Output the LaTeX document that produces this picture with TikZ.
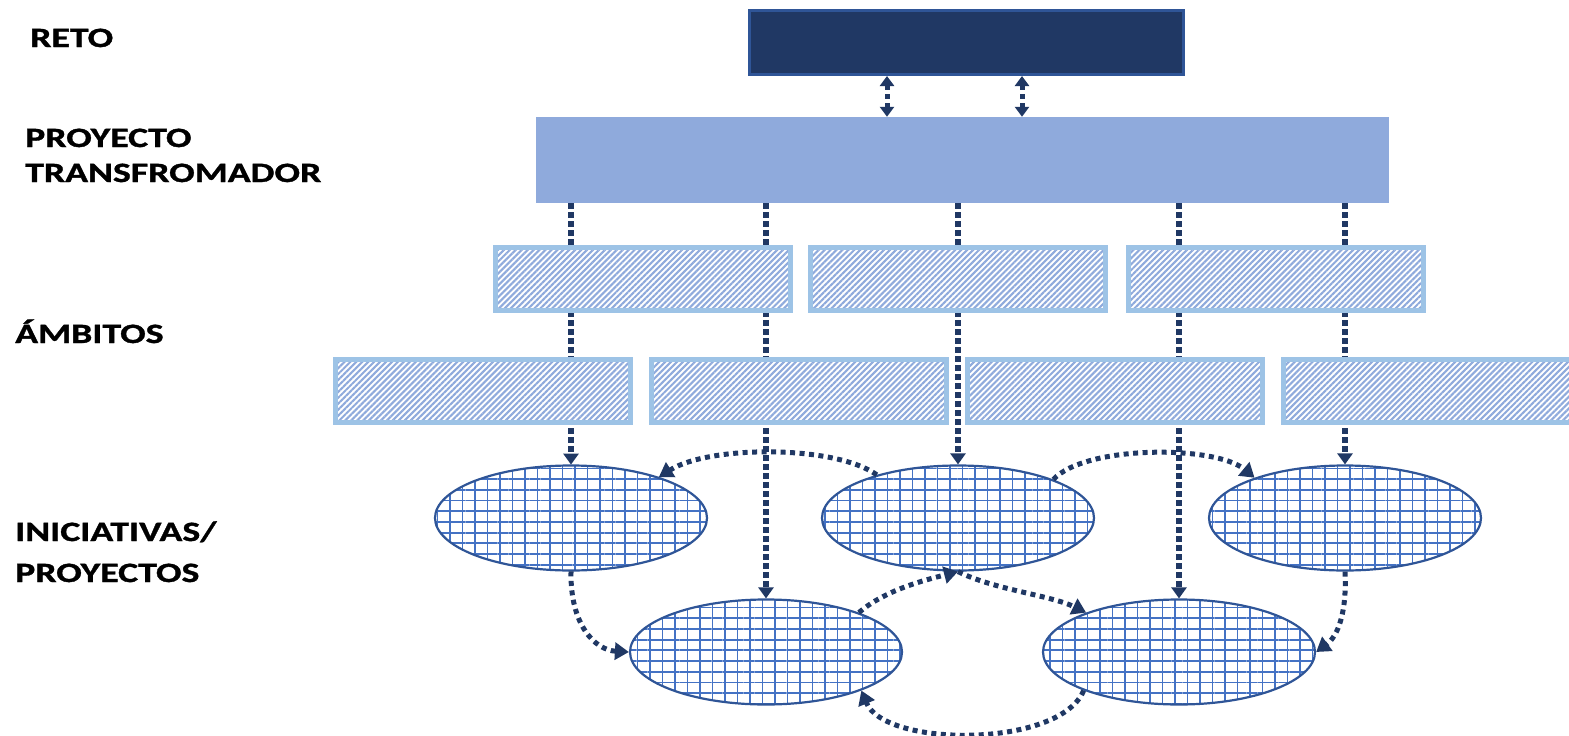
\documentclass[tikz,border=0pt]{standalone}
\usepackage{fontspec}
\newfontfamily\labfont[FakeStretch=1.35,FakeBold=1.2]{Carlito}
\usetikzlibrary{arrows.meta,shapes.geometric,patterns.meta}
\definecolor{navy}{HTML}{203864}
\definecolor{navyedge}{HTML}{2F5597}
\definecolor{proyfill}{HTML}{8FAADC}
\definecolor{ambedge}{HTML}{9DC3E6}
\definecolor{gridblue}{HTML}{4472C4}
\tikzset{
  lab/.style={anchor=base west, inner sep=0pt, font=\labfont\bfseries\fontsize{28}{30}\selectfont, text=black},
  ambbox/.style={rectangle, draw=ambedge, line width=5pt, minimum width=295pt, minimum height=63pt, inner sep=0pt,
    preaction={fill=white},
    pattern={Lines[angle=45,distance=4.2pt,line width=2.1pt]}, pattern color=proyfill},
  inic/.style={ellipse, draw=navyedge, line width=2.2pt, minimum width=272pt, minimum height=105pt, inner sep=0pt,
    preaction={fill=white},
    preaction={pattern={Lines[angle=0,distance=10.7pt,line width=1.8pt]}, pattern color=gridblue},
    pattern={Lines[angle=90,distance=12.5pt,line width=1.8pt]}, pattern color=gridblue},
  vline/.style={draw=navy, line width=5.5pt, dash pattern=on 6pt off 3pt, -{Triangle[width=15pt,length=11pt]}},
  cur/.style={draw=navy, line width=5pt, dash pattern=on 5pt off 4.5pt, -{Triangle[width=17pt,length=14pt]}},
  dbl/.style={draw=navy, line width=5pt, dash pattern=on 5pt off 4pt, {Triangle[width=14pt,length=10pt]}-{Triangle[width=14pt,length=10pt]}}
}
\begin{document}
\begin{tikzpicture}[x=1pt,y=-1pt]
\useasboundingbox (0,0) rectangle (1569,736);
% labels
\node[lab] (lreto) at (30,47) {RETO};
\node[lab] (lproy1) at (25,147) {PROYECTO};
\node[lab] (lproy2) at (25,182) {TRANSFROMADOR};
\node[lab] (lamb) at (15,343) {ÁMBITOS};
\node[lab] (lini1) at (15,541) {INICIATIVAS/};
\node[lab] (lini2) at (15,582) {PROYECTOS};
% main boxes
\node[rectangle, fill=navy, draw=navyedge, line width=3pt, minimum width=434pt, minimum height=64pt, inner sep=0pt] (reto) at (966.5,42.5) {};
\node[rectangle, fill=proyfill, minimum width=853pt, minimum height=86pt, inner sep=0pt] (proy) at (962.5,160) {};
% ellipses
\node[inic] (e1) at (571,518) {};
\node[inic] (e2) at (958,518) {};
\node[inic] (e3) at (1345,518) {};
\node[inic] (e4) at (766,652) {};
\node[inic] (e5) at (1179,652) {};
% reto <-> proyecto
\coordinate (ra) at (887,0);
\coordinate (rb) at (1022,0);
\draw[dbl] (reto.south -| ra) -- (proy.north -| ra);
\draw[dbl] (reto.south -| rb) -- (proy.north -| rb);
% vertical connectors
\draw[vline] (proy.south -| e1.north) -- (e1.north);
\draw[vline] (proy.south -| e4.north) -- (e4.north);
\draw[vline] (proy.south -| e2.north) -- (e2.north);
\draw[vline] (proy.south -| e5.north) -- (e5.north);
\draw[vline] (proy.south -| e3.north) -- (e3.north);
% ambitos boxes
\node[ambbox] (a1) at (643,279) {};
\node[ambbox] (a2) at (958,279) {};
\node[ambbox] (a3) at (1275.5,279) {};
\node[ambbox] (b1) at (482.5,391) {};
\node[ambbox] (b2) at (799,391) {};
\node[ambbox] (b3) at (1115,391) {};
\node[ambbox] (b4) at (1431,391) {};
% curved connectors
\draw[cur] (e2.152) .. controls (835,445) and (710,445) .. (e1.25);
\draw[cur] (e2.22) .. controls (1085,445) and (1215,445) .. (e3.156);
\draw[cur] (e1.south) .. controls (570,625) and (595,650) .. (e4.west);
\draw[cur] (e3.south) .. controls (1347,612) and (1338,636) .. (e5.east);
\draw[cur] (e4.23) .. controls (885,590) and (925,580) .. (e2.south);
\draw[cur] (e2.south) .. controls (995,590) and (1050,595) .. (e5.157);
\draw[cur] (e5.202) .. controls (1060,748) and (885,748) .. (e4.338);
\end{tikzpicture}
\end{document}
